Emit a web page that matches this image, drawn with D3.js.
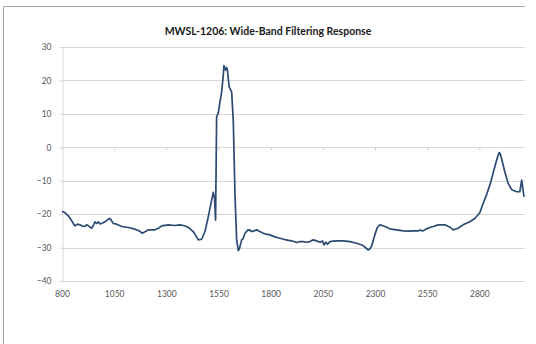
<!DOCTYPE html>
<html>
<head>
<meta charset="utf-8">
<script src="https://cdn.jsdelivr.net/npm/d3@7"></script>
<style>
  html, body { margin: 0; padding: 0; background: #fff; }
  svg { display: block; }
</style>
</head>
<body>
<div id="chart"></div>
<script>
const chartTitle = "MWSL-1206: Wide-Band Filtering Response";

// frequency readings along the x axis
const freq = [
  800, 815, 830, 845, 854, 862, 874, 886, 898, 910, 918, 926, 942, 950, 958, 966,
  974, 982, 990, 1006, 1022, 1030, 1046, 1062, 1086, 1118, 1150, 1170, 1185, 1200,
  1213, 1245, 1262, 1278, 1309, 1341, 1365, 1381, 1397, 1413, 1429, 1445, 1453, 1469,
  1485, 1501, 1517, 1525, 1531, 1536, 1541, 1549, 1557, 1565, 1573, 1576, 1580, 1584,
  1588, 1592, 1601, 1613, 1621, 1629, 1637, 1645, 1650, 1661, 1668, 1677, 1690, 1700,
  1708, 1720, 1733, 1748, 1764, 1780, 1796, 1820, 1844, 1868, 1892, 1908, 1924, 1940,
  1956, 1972, 1988, 2004, 2020, 2036, 2048, 2056, 2064, 2072, 2084, 2100, 2116, 2148,
  2180, 2212, 2243, 2258, 2267, 2275, 2283, 2291, 2299, 2311, 2323, 2335, 2347, 2371,
  2403, 2435, 2459, 2483, 2507, 2515, 2531, 2547, 2563, 2579, 2603, 2635, 2659, 2675,
  2698, 2722, 2754, 2778, 2802, 2818, 2834, 2853, 2874, 2887, 2895, 2900, 2906, 2922,
  2938, 2954, 2978, 2994, 3003, 3014
];

// response (dB) at each frequency
const response = [
  -19.1, -19.6, -20.5, -21.8, -22.8, -23.5, -23.0, -23.2, -23.6, -23.7, -23.2, -23.5, -24.2, -23.4, -22.3, -22.8,
  -22.3, -22.9, -22.8, -22.3, -21.5, -21.3, -22.8, -23.0, -23.7, -24.0, -24.5, -25.0, -25.7, -25.2,
  -24.7, -24.7, -24.2, -23.5, -23.2, -23.4, -23.2, -23.4, -23.7, -24.3, -25.2, -26.8, -27.7, -27.5,
  -25.2, -20.8, -15.8, -13.5, -15.3, -21.8, 9.2, 10.2, 13.6, 16.6, 21.6, 24.4, 23.5, 23.1,
  23.9, 23.4, 18.1, 16.6, 7.6, -14.3, -27.7, -30.9, -30.4, -27.7, -27.3, -25.7, -24.8, -24.7,
  -25.2, -25.0, -24.7, -25.2, -25.7, -26.0, -26.2, -26.8, -27.2, -27.6, -27.9, -28.1, -28.5, -28.2,
  -28.2, -28.4, -28.2, -27.7, -28.0, -28.4, -28.0, -29.2, -28.4, -29.0, -28.2, -28.1, -28.0, -28.0,
  -28.2, -28.7, -29.4, -30.2, -30.7, -30.4, -29.7, -28.0, -26.2, -24.0, -23.2, -23.4, -23.7, -24.4,
  -24.7, -25.0, -25.1, -25.0, -25.0, -24.8, -25.0, -24.4, -24.0, -23.7, -23.2, -23.2, -23.9, -24.7,
  -24.2, -23.2, -22.3, -21.3, -19.6, -16.8, -14.3, -10.8, -5.8, -3.0, -1.6, -1.9, -3.3, -7.3,
  -10.8, -12.6, -13.3, -13.3, -9.8, -14.8
];

const xTicks = [800, 1050, 1300, 1550, 1800, 2050, 2300, 2550, 2800];
const yTicks = [30, 20, 10, 0, -10, -20, -30, -40];

const width = 536;
const height = 344;
const margin = { top: 47, right: 12, bottom: 63, left: 62 };

const data = freq.map((f, i) => ({ f, v: response[i] }));

const svg = d3.select("#chart")
  .append("svg")
  .attr("width", width)
  .attr("height", height)
  .style("font-family", "Lato, 'Liberation Sans', sans-serif");

// outer chart frame (only top and left edges show in the shot)
svg.append("path")
  .attr("d", "M3.5,344 V6.5 H525")
  .attr("fill", "none")
  .attr("stroke", "#a6a6a6")
  .attr("stroke-width", 1);

svg.append("text")
  .attr("x", 268)
  .attr("y", 35)
  .attr("text-anchor", "middle")
  .attr("font-size", 10.5)
  .attr("font-weight", "bold")
  .attr("fill", "#1a1a1a")
  .text(chartTitle);

const x = d3.scaleLinear()
  .domain([800, 3014])
  .range([margin.left, width - margin.right]);

const y = d3.scaleLinear()
  .domain([-40, 30])
  .range([height - margin.bottom, margin.top]);

// horizontal gridlines
svg.append("g")
  .selectAll("line")
  .data(yTicks)
  .join("line")
  .attr("x1", margin.left)
  .attr("x2", x(3014) + 1)
  .attr("y1", (d) => Math.round(y(d)) + 0.5)
  .attr("y2", (d) => Math.round(y(d)) + 0.5)
  .attr("stroke", "#d9d9d9")
  .attr("stroke-width", 1);

// value axis on the left
const yAxis = svg.append("g")
  .attr("transform", `translate(${margin.left + 0.5},0)`)
  .call(d3.axisLeft(y).tickValues(yTicks).tickSize(3).tickPadding(8));
yAxis.select(".domain").attr("stroke", "#d9d9d9");
yAxis.selectAll(".tick line").attr("stroke", "#d9d9d9");
yAxis.selectAll(".tick text")
  .attr("font-size", 8.5)
  .attr("fill", "#595959")
  .attr("font-family", "Lato, 'Liberation Sans', sans-serif");

// category axis crosses at 0, labels sit at the bottom
const xAxisZero = svg.append("g")
  .attr("transform", `translate(0,${Math.round(y(0)) + 0.5})`)
  .call(d3.axisBottom(x).tickValues(xTicks).tickSize(3).tickFormat(""));
xAxisZero.select(".domain").remove();
xAxisZero.selectAll(".tick line").attr("stroke", "#d0d0d0");

const xAxisLabels = svg.append("g")
  .attr("transform", `translate(0,${Math.round(y(-40)) + 0.5})`)
  .call(d3.axisBottom(x).tickValues(xTicks).tickSize(0).tickPadding(9).tickFormat(d3.format("d")));
xAxisLabels.select(".domain").remove();
xAxisLabels.selectAll(".tick text")
  .attr("font-size", 8.5)
  .attr("fill", "#595959")
  .attr("font-family", "Lato, 'Liberation Sans', sans-serif");

// response curve
const line = d3.line()
  .x((d) => x(d.f))
  .y((d) => y(d.v));

svg.append("path")
  .datum(data)
  .attr("fill", "none")
  .attr("stroke", "#2c4a74")
  .attr("stroke-width", 1.7)
  .attr("stroke-linejoin", "round")
  .attr("d", line);
</script>
</body>
</html>
